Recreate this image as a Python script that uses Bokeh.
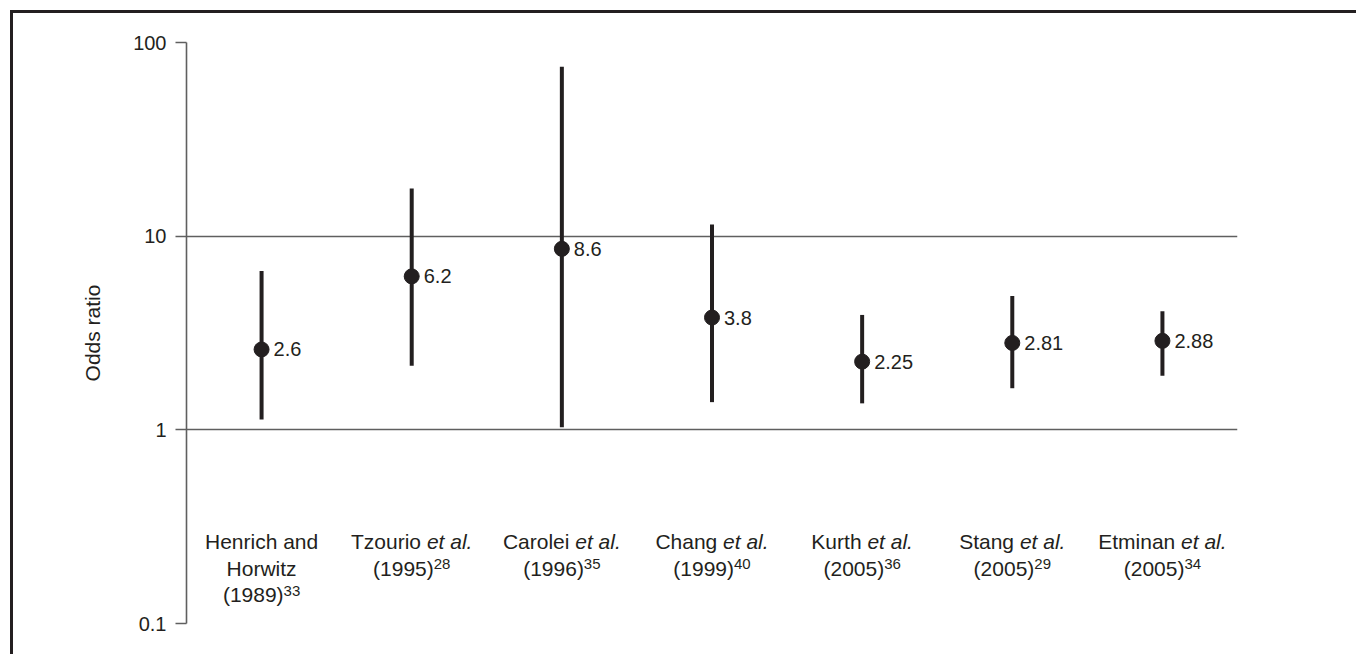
from bokeh.plotting import figure
from bokeh.models import ColumnDataSource, FixedTicker, CustomJSTickFormatter, FactorRange
from bokeh.core.properties import value
from bokeh.embed import file_html
from bokeh.resources import INLINE

# ---------------- data ----------------
studies = ["Henrich and Horwitz (1989)", "Tzourio et al. (1995)", "Carolei et al. (1996)",
           "Chang et al. (1999)", "Kurth et al. (2005)", "Stang et al. (2005)", "Etminan et al. (2005)"]
name_lines = [["Henrich and", "Horwitz"], ["Tzourio"], ["Carolei"], ["Chang"],
              ["Kurth"], ["Stang"], ["Etminan"]]
has_et_al = [False, True, True, True, True, True, True]
years = ["1989", "1995", "1996", "1999", "2005", "2005", "2005"]
refs = ["33", "28", "35", "40", "36", "29", "34"]
odds_ratio = [2.6, 6.2, 8.6, 3.8, 2.25, 2.81, 2.88]
ci_low = [1.13, 2.14, 1.03, 1.39, 1.37, 1.64, 1.90]
ci_high = [6.6, 17.6, 75.0, 11.5, 3.92, 4.91, 4.10]
y_ticks = [0.1, 1, 10, 100]

# ---------------- style ----------------
INK = "#231f20"
GRID = "#5f5f5f"
FONT = "Liberation Sans"
FS = 21      # label font size (px)
SUP = 15     # superscript size (px)
RAISE = 4    # superscript raise (px)
LINE0 = 112  # first label baseline below the OR=1 line (px)
LH = 26.5    # line height (px)

# Arial / Liberation Sans advance widths (per 1000 em)
W = {' ': 278, '(': 333, ')': 333, '.': 278, 'a': 556, 'c': 500, 'd': 556, 'e': 556,
     'g': 556, 'h': 556, 'i': 222, 'l': 222, 'm': 833, 'n': 556, 'o': 556, 'r': 333,
     't': 278, 'u': 556, 'w': 722, 'z': 500, 's': 500, 'k': 500, 'C': 722, 'E': 667,
     'H': 722, 'K': 667, 'S': 667, 'T': 611}
for d in "0123456789":
    W[d] = 556


def tw(s, size):
    return sum(W.get(c, 556) for c in s) / 1000.0 * size


lx, ltxt, lxo, lyo, lfs, lfst = [], [], [], [], [], []
for i, st in enumerate(studies):
    lines = []
    nl = name_lines[i]
    for j, nm in enumerate(nl):
        if has_et_al[i] and j == len(nl) - 1:
            lines.append([(nm, "normal", FS, 0, tw(nm + " ", FS)), ("et al.", "italic", FS, 0, tw("et al.", FS))])
        else:
            lines.append([(nm, "normal", FS, 0, tw(nm, FS))])
    yr = "(" + years[i] + ")"
    lines.append([(yr, "normal", FS, 0, tw(yr, FS)), (refs[i], "normal", SUP, RAISE, tw(refs[i], SUP))])
    for k, pieces in enumerate(lines):
        total = sum(pc[4] for pc in pieces)
        cur = -total / 2.0
        for t, style, size, r, w in pieces:
            lx.append(st)
            ltxt.append(t)
            lxo.append(cur)
            lyo.append(LINE0 + k * LH - r)
            lfs.append(f"{size}px")
            lfst.append(style)
            cur += w

label_src = ColumnDataSource(dict(x=lx, y=[y_ticks[1]] * len(lx), text=ltxt, xo=lxo, yo=lyo,
                                  fs=lfs, fst=lfst))

src = ColumnDataSource(dict(study=studies, orv=odds_ratio, lo=ci_low, hi=ci_high,
                            lab=[str(v) for v in odds_ratio]))

p = figure(x_range=FactorRange(factors=studies), y_axis_type="log", y_range=(y_ticks[0], y_ticks[-1]),
           width=1346, height=644, output_backend="svg", toolbar_location=None,
           min_border_left=173, min_border_right=122, min_border_top=29, min_border_bottom=34)
p.styles = {"border-left": f"3px solid {INK}", "border-top": f"3px solid {INK}",
            "margin-left": "10px", "margin-top": "10px"}

p.outline_line_color = None
p.background_fill_color = "white"
p.border_fill_color = "white"
p.xaxis.visible = False
p.xgrid.visible = False
p.ygrid.ticker = FixedTicker(ticks=y_ticks)
p.ygrid.grid_line_color = GRID
p.ygrid.grid_line_width = 1.6

ax = p.yaxis[0]
ax.ticker = FixedTicker(ticks=y_ticks, minor_ticks=[])
ax.formatter = CustomJSTickFormatter(code="return tick < 1 ? tick.toFixed(1) : tick.toFixed(0);")
ax.axis_line_color = GRID
ax.axis_line_width = 1.6
ax.major_tick_line_color = GRID
ax.major_tick_line_width = 1.6
ax.major_tick_out = 11
ax.major_tick_in = 0
ax.minor_tick_out = 0
ax.minor_tick_in = 0
ax.major_label_standoff = 9
ax.major_label_text_font = FONT
ax.major_label_text_font_size = "20px"
ax.major_label_text_color = INK
ax.axis_label = "Odds ratio"
ax.axis_label_text_font = FONT
ax.axis_label_text_font_size = "21px"
ax.axis_label_text_font_style = "normal"
ax.axis_label_text_color = INK
ax.axis_label_standoff = 26

p.segment(x0="study", y0="lo", x1="study", y1="hi", source=src, line_color=INK, line_width=4)
p.scatter(x="study", y="orv", source=src, size=15, fill_color=INK, line_color=INK)
p.text(x="study", y="orv", text="lab", source=src, x_offset=12, text_align="left",
       text_baseline="middle", text_font=value(FONT), text_font_size="20px", text_color=INK)

p.text(x="x", y="y", text="text", x_offset="xo", y_offset="yo", text_font_size="fs",
       text_font_style="fst", text_align="left", text_baseline="alphabetic",
       text_font=value(FONT), text_color=INK, source=label_src)

open("out.html", "w").write(file_html(p, INLINE))
